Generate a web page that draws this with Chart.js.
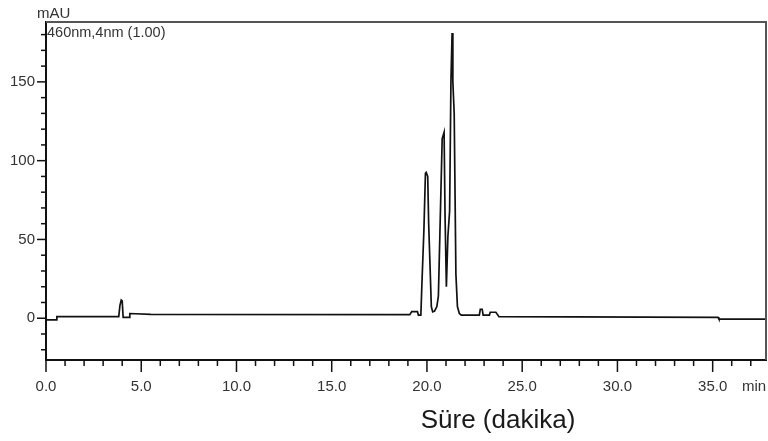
<!DOCTYPE html>
<html>
<head>
<meta charset="utf-8">
<script src="https://cdn.jsdelivr.net/npm/chart.js@4"></script>
<style>
  body { margin: 0; background: #fff; }
  #wrap { position: relative; width: 768px; height: 441px; }
  .lbl { position: absolute; white-space: nowrap; line-height: 1; color: #333;
         font-family: 'Liberation Sans', Arial, sans-serif; }
</style>
</head>
<body>
<div id="wrap">
  <canvas id="chrom" width="768" height="441"></canvas>
  <div class="lbl" style="left:37px;top:5px;font-size:15px">mAU</div>
  <div class="lbl" style="left:47px;top:25px;font-size:14.5px">460nm,4nm (1.00)</div>
  <div class="lbl" style="left:742px;top:378px;font-size:15px">min</div>
  <div class="lbl" style="left:498px;top:406px;font-size:26px;color:#1a1a1a;transform:translateX(-50%)">Süre (dakika)</div>
</div>
<script>
// ── DATA ───────────────────────────────────────────────────────
// retention time (min) and detector signal (mAU)
const TIME = [
  0, 0.55, 0.57, 3.82, 3.88, 3.95, 4.0, 4.05, 4.36, 4.4, 5.5,
  19.1, 19.2, 19.5, 19.55, 19.68, 19.73, 19.84, 19.92, 19.96, 20.04, 20.09,
  20.16, 20.23, 20.3, 20.4, 20.52, 20.6, 20.68, 20.8, 20.9, 20.95, 21.02,
  21.1, 21.19, 21.26, 21.32, 21.36, 21.43, 21.52, 21.6, 21.7, 21.8,
  22.75, 22.8, 22.9, 22.95, 23.28, 23.32, 23.62, 23.78, 35.28, 35.33, 37.8,
];
const SIGNAL = [
  -1, -1, 1, 1, 8, 11.5, 11, 0.6, 0.6, 3, 2.5,
  2.3, 4.2, 4.2, 2, 2, 20, 56, 92, 92.6, 90, 60,
  34, 7.4, 4, 4.5, 7.4, 14, 54, 114, 118, 65, 20,
  52, 68, 151, 181, 150, 130, 28, 7.4, 3, 2,
  2, 5.7, 5.7, 2, 2, 3.8, 3.8, 1, 0.6, -0.6, -0.6,
];
const X_TICKS = [0, 5, 10, 15, 20, 25, 30, 35];
const Y_TICKS = [0, 50, 100, 150];
const X_RANGE = [0, 37.8];
const Y_RANGE = [-26.5, 188];

const INK = '#111';
const LABEL_COLOR = '#333';
const TICK_FONT = { family: "'Liberation Sans', Arial, sans-serif", size: 15 };

// minor/major tick marks and the top/right frame of the plot
const frameTicks = {
  id: 'frameTicks',
  afterDraw(chart) {
    const { ctx, chartArea: a, scales: { x, y } } = chart;
    ctx.save();
    ctx.strokeStyle = INK;
    ctx.lineWidth = 1.5;
    for (let v = Math.ceil(x.min); v <= x.max; v++) {
      const px = x.getPixelForValue(v);
      const len = v % 5 === 0 ? 12 : 6;
      ctx.beginPath(); ctx.moveTo(px, a.bottom); ctx.lineTo(px, a.bottom + len); ctx.stroke();
    }
    for (let v = Math.ceil(y.min / 10) * 10; v <= y.max; v += 10) {
      const py = y.getPixelForValue(v);
      const len = v % 50 === 0 ? 9 : 5;
      ctx.beginPath(); ctx.moveTo(a.left, py); ctx.lineTo(a.left - len, py); ctx.stroke();
    }
    ctx.strokeStyle = '#555';
    ctx.lineWidth = 2;
    ctx.beginPath();
    ctx.moveTo(a.left, a.top); ctx.lineTo(a.right, a.top); ctx.lineTo(a.right, a.bottom);
    ctx.stroke();
    ctx.restore();
  },
};

new Chart(document.getElementById('chrom'), {
  type: 'line',
  data: {
    datasets: [{
      data: TIME.map((t, i) => ({ x: t, y: SIGNAL[i] })),
      borderColor: INK,
      borderWidth: 1.7,
      pointRadius: 0,
      tension: 0,
      fill: false,
    }],
  },
  options: {
    responsive: false,
    animation: false,
    layout: { padding: { top: 22, right: 2, left: 0, bottom: 0 } },
    plugins: { legend: { display: false }, tooltip: { enabled: false } },
    scales: {
      x: {
        type: 'linear',
        min: X_RANGE[0], max: X_RANGE[1],
        afterBuildTicks: s => { s.ticks = X_TICKS.map(v => ({ value: v })); },
        afterFit: s => { s.height = 81; },
        grid: { display: false, drawTicks: false },
        border: { display: true, color: INK, width: 2 },
        ticks: { color: LABEL_COLOR, font: TICK_FONT, padding: 18, maxRotation: 0, autoSkip: false,
                 callback: v => Number(v).toFixed(1) },
      },
      y: {
        min: Y_RANGE[0], max: Y_RANGE[1],
        afterBuildTicks: s => { s.ticks = Y_TICKS.map(v => ({ value: v })); },
        afterFit: s => { s.width = 46; },
        grid: { display: false, drawTicks: false },
        border: { display: true, color: INK, width: 2 },
        ticks: { color: LABEL_COLOR, font: TICK_FONT, padding: 11, callback: v => String(v) },
      },
    },
  },
  plugins: [frameTicks],
});
</script>
</body>
</html>
